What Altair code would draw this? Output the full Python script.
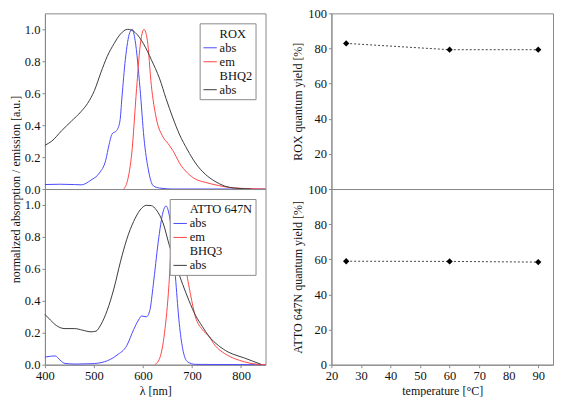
import altair as alt
import pandas as pd

# ---------------- data ----------------
rox_abs_nm = [400, 430, 460, 474, 494, 511, 524, 531, 537, 546, 553, 557, 564, 573, 578, 584, 594, 602, 611, 621, 634, 660, 850]
rox_abs_val = [0.028, 0.03, 0.028, 0.026, 0.056, 0.10, 0.18, 0.28, 0.345, 0.365, 0.425, 0.57, 0.81, 0.98, 1.0, 0.93, 0.63, 0.32, 0.12, 0.02, 0.006, 0.0, 0.0]

rox_em_nm = [561, 569, 577, 587, 594, 602, 609, 617, 627, 641, 651, 664, 674, 691, 707, 727, 754, 781, 821, 850]
rox_em_val = [0.0, 0.06, 0.22, 0.63, 0.89, 1.0, 0.93, 0.65, 0.445, 0.325, 0.285, 0.225, 0.165, 0.10, 0.062, 0.042, 0.022, 0.008, 0.002, 0.0]

bhq2_nm = [400, 414, 434, 454, 474, 487, 501, 514, 527, 541, 554, 569, 584, 601, 617, 634, 647, 661, 674, 691, 707, 727, 747, 767, 787, 821]
bhq2_val = [0.274, 0.30, 0.365, 0.425, 0.486, 0.536, 0.617, 0.728, 0.83, 0.91, 0.97, 1.0, 0.98, 0.91, 0.81, 0.69, 0.567, 0.445, 0.345, 0.244, 0.163, 0.093, 0.048, 0.018, 0.006, 0.0]

atto_abs_nm = [400, 411, 421, 431, 441, 461, 494, 521, 547, 567, 581, 591, 597, 607, 614, 621, 631, 641, 647, 654, 661, 667, 674, 681, 691, 707, 850]
atto_abs_val = [0.048, 0.053, 0.055, 0.028, 0.008, 0.004, 0.006, 0.018, 0.06, 0.12, 0.22, 0.28, 0.305, 0.30, 0.34, 0.50, 0.766, 0.957, 0.994, 0.93, 0.766, 0.52, 0.26, 0.10, 0.018, 0.002, 0.0]

atto_em_nm = [624, 634, 644, 653, 659, 667, 674, 681, 687, 697, 707, 721, 734, 747, 767, 787, 807, 834, 850]
atto_em_val = [0.0, 0.04, 0.2, 0.50, 0.826, 0.994, 0.947, 0.806, 0.624, 0.44, 0.30, 0.22, 0.18, 0.12, 0.069, 0.038, 0.018, 0.002, 0.0]

bhq3_nm = [400, 411, 424, 441, 461, 477, 494, 504, 514, 527, 541, 554, 567, 581, 594, 607, 617, 627, 641, 654, 667, 681, 694, 707, 721, 734, 754, 774, 794, 807, 824, 841]
bhq3_val = [0.315, 0.28, 0.244, 0.226, 0.226, 0.216, 0.206, 0.21, 0.25, 0.34, 0.48, 0.644, 0.786, 0.897, 0.968, 0.998, 0.996, 0.97, 0.887, 0.745, 0.624, 0.503, 0.40, 0.31, 0.24, 0.18, 0.12, 0.079, 0.055, 0.042, 0.022, 0.002]

temperature = [25, 60, 90]
rox_qy = [82.9, 79.3, 79.3]
atto_qy = [58.9, 58.8, 58.4]

# ---------------- styling ----------------
FONT = "Liberation Serif"
BLUE = "#4a4aff"
RED = "#ff4646"
DARK = "#3c3c3c"
FRAME = "#8a8a8a"
W_L, W_R, H = 221, 222, 176


def frame(nm, val, series):
    return pd.DataFrame({"nm": nm, "val": val, "series": series})


top_df = pd.concat([
    frame(rox_abs_nm, rox_abs_val, "ROX|abs"),
    frame(rox_em_nm, rox_em_val, "ROX|em"),
    frame(bhq2_nm, bhq2_val, "BHQ2|abs"),
])
bot_df = pd.concat([
    frame(atto_abs_nm, atto_abs_val, "ATTO 647N|abs"),
    frame(atto_em_nm, atto_em_val, "ATTO 647N|em"),
    frame(bhq3_nm, bhq3_val, "BHQ3|abs"),
])

legend_common = dict(
    orient="top-right", title=None, symbolType="stroke", symbolStrokeWidth=1,
    symbolSize=180, fillColor="white", strokeColor=FRAME, padding=3, offset=10,
    rowPadding=0, labelOffset=2, labelFont=FONT, labelFontSize=12.5, labelColor="#111",
    labelExpr="indexof(datum.label, '|') > 0 ? split(datum.label, '|')[1] : datum.label",
)


def spectrum(df, dye, quencher, show_x, ytitle, yvalues):
    dom = [dye, dye + "|abs", dye + "|em", quencher, quencher + "|abs"]
    rng = ["transparent", BLUE, RED, "transparent", DARK]
    if show_x:
        xaxis = alt.Axis(title="λ [nm]", values=[400, 500, 600, 700, 800], format="d",
                         labelFlush=False)
    else:
        xaxis = None
    yaxis = alt.Axis(values=yvalues, format=".1f", title=ytitle, titlePadding=2,
                     labelFlush=False, titleY=H if ytitle else alt.Undefined)
    return alt.Chart(df).mark_line(strokeWidth=1, interpolate="monotone").encode(
        x=alt.X("nm:Q", scale=alt.Scale(domain=[400, 850], nice=False), axis=xaxis),
        y=alt.Y("val:Q", scale=alt.Scale(domain=[0, 1.1], nice=False), axis=yaxis),
        color=alt.Color("series:N", scale=alt.Scale(domain=dom, range=rng),
                        legend=alt.Legend(**legend_common)),
        detail="series:N",
    ).properties(width=W_L, height=H)


def qy_panel(values, ytitle, show_x, yvalues):
    df = pd.DataFrame({"T": temperature, "qy": values})
    if show_x:
        xaxis = alt.Axis(title="temperature [°C]", values=list(range(20, 100, 10)), format="d",
                         labelFlush=False)
    else:
        xaxis = None
    x = alt.X("T:Q", scale=alt.Scale(domain=[20, 95], nice=False), axis=xaxis)
    y = alt.Y("qy:Q", scale=alt.Scale(domain=[0, 100], nice=False),
              axis=alt.Axis(title=ytitle, values=yvalues, format="d", labelFlush=False))
    base = alt.Chart(df).encode(x=x, y=y)
    line = base.mark_line(strokeWidth=1, strokeDash=[2, 2], color="#444")
    pts = base.mark_point(shape="diamond", filled=True, size=40, color="black", opacity=1)
    return (line + pts).properties(width=W_R, height=H)


tl = spectrum(top_df, "ROX", "BHQ2", False, "normalized absorption / emission [a.u.]",
              [0, 0.2, 0.4, 0.6, 0.8, 1.0])
bl = spectrum(bot_df, "ATTO 647N", "BHQ3", True, None, [0, 0.2, 0.4, 0.6, 0.8, 1.0])
tr = qy_panel(rox_qy, "ROX quantum yield [%]", False, [20, 40, 60, 80, 100])
br = qy_panel(atto_qy, "ATTO 647N quantum yield [%]", True, [0, 20, 40, 60, 80, 100])

chart = alt.concat(tl, tr, bl, br, columns=2, spacing={"row": 0, "column": 66},
                   bounds="flush").resolve_scale(
    color="independent", x="independent", y="independent"
).resolve_legend(color="independent").properties(
    padding={"left": 0, "top": -2, "right": 0, "bottom": 0}
).configure_view(
    stroke=FRAME, strokeWidth=1
).configure_axis(
    grid=False, domainColor=FRAME, tickColor=FRAME, tickSize=3,
    labelFont=FONT, labelFontSize=12.5, labelColor="#111", labelPadding=2,
    titleFont=FONT, titleFontSize=12, titleFontWeight="normal", titleColor="#111",
    titlePadding=3,
)

chart.save("out.html", embed_options={"renderer": "svg", "actions": False})
